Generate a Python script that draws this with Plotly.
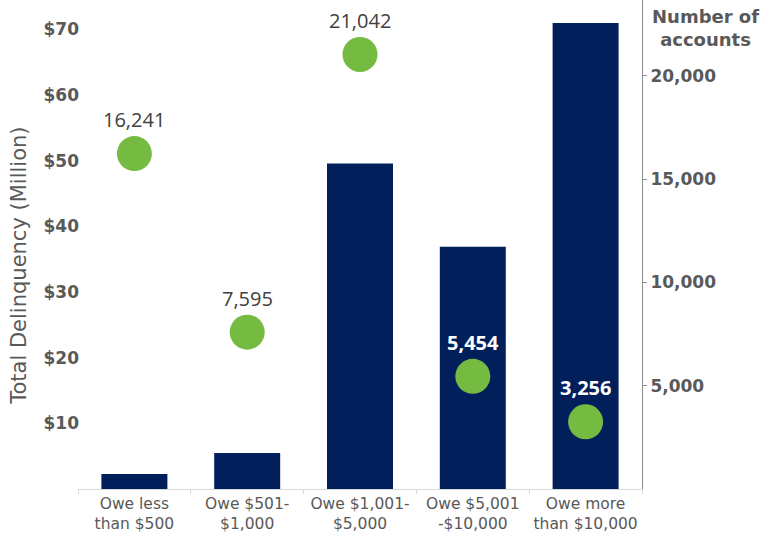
import plotly.graph_objects as go

categories = ["Owe less<br>than $500", "Owe $501-<br>$1,000", "Owe $1,001-<br>$5,000",
              "Owe $5,001<br>-$10,000", "Owe more<br>than $10,000"]
delinquency_millions = [2.3, 5.5, 49.6, 36.9, 71.0]
accounts = [16241, 7595, 21042, 5454, 3256]
label_colors = ["#404040", "#404040", "#404040", "#ffffff", "#ffffff"]
label_weights = ["normal", "normal", "normal", "bold", "bold"]
left_ticks = [10, 20, 30, 40, 50, 60, 70]
left_ticktext = ["$10", "$20", "$30", "$40", "$50", "$60", "$70"]
right_ticks = [5000, 10000, 15000, 20000]

AXIS_FONT = "DejaVu Sans"
GRAY = "#595959"

fig = go.Figure()
fig.add_trace(go.Bar(x=categories, y=delinquency_millions, marker_color="#001F5B",
                     marker_line_width=0, width=0.585, yaxis="y", showlegend=False))
fig.add_trace(go.Scatter(x=categories, y=accounts, mode="markers", yaxis="y2",
                         marker=dict(color="#76BB41", size=35, line_width=0), showlegend=False))

annotations = []
for c, v, col, w in zip(categories, accounts, label_colors, label_weights):
    annotations.append(dict(x=c, y=v, xref="x", yref="y2", text=f"{v:,}", showarrow=False,
                            yshift=34, font=dict(family="Open Sans", size=20, color=col, weight=w)))
annotations.append(dict(xref="paper", yref="paper", x=-0.105, y=0.456, xanchor="center", yanchor="middle",
                        text="Total Delinquency (Million)", textangle=-90, showarrow=False,
                        font=dict(family=AXIS_FONT, size=21, color=GRAY)))
annotations.append(dict(xref="paper", yref="paper", x=1.112, y=1, xanchor="center", yanchor="top", yshift=-4,
                        text="Number of<br>accounts", showarrow=False,
                        font=dict(family=AXIS_FONT, size=18, color=GRAY, weight=700)))

fig.update_layout(
    width=772, height=536,
    margin=dict(l=78, r=130, t=0, b=47),
    plot_bgcolor="white", paper_bgcolor="white",
    annotations=annotations,
    xaxis=dict(showline=True, linecolor="#d9d9d9", linewidth=1, ticks="outside",
               tickson="boundaries", ticklen=4, tickcolor="#d9d9d9", showgrid=False,
               tickangle=0, automargin=False,
               tickfont=dict(family=AXIS_FONT, size=15.5, color=GRAY)),
    yaxis=dict(range=[0, 74.5], tickvals=left_ticks, ticktext=left_ticktext, showgrid=False,
               zeroline=False, showline=False, ticklabelstandoff=-2, automargin=False,
               tickfont=dict(family=AXIS_FONT, size=17, color=GRAY, weight=700)),
    yaxis2=dict(range=[0, 23680], overlaying="y", side="right", tickvals=right_ticks,
                tickformat=",d", showgrid=False, zeroline=False, showline=True, automargin=False,
                linecolor="#8c8c8c", linewidth=1, ticks="outside", ticklen=4, tickcolor="#8c8c8c",
                tickfont=dict(family=AXIS_FONT, size=17, color=GRAY, weight=700)),
)

fig.write_html("out.html")
